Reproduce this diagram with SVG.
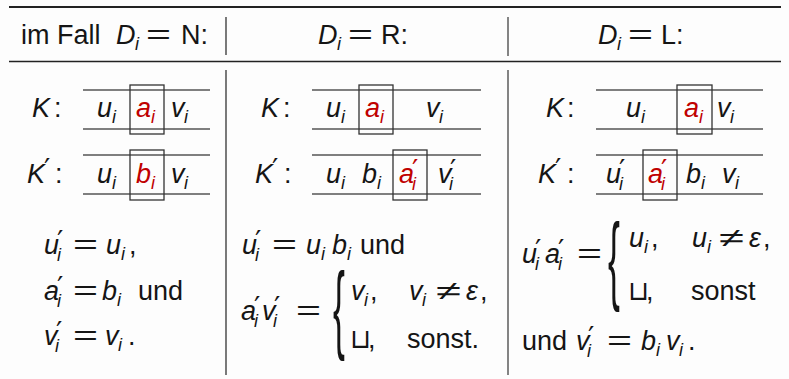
<svg xmlns="http://www.w3.org/2000/svg" width="789" height="379" viewBox="0 0 789 379">
<style>
text{font-family:"Liberation Sans",Arial,sans-serif;font-size:27px;fill:#151515}
.m{font-style:italic}
.s{font-size:18px;font-style:italic}
.p{font-family:"DejaVu Sans",sans-serif;font-size:28px}
.r{fill:#c00000}
.cup{font-family:"DejaVu Sans",sans-serif;font-size:27px}
.br{font-size:34px}
.rule{stroke:#222;fill:none}
.tape{stroke:#555;stroke-width:1.3;fill:none}
.box{stroke:#333;stroke-width:1.3;fill:none}
.sepd{stroke:#222;stroke-width:1.2}
.sepg{stroke:#777;stroke-width:1.8}
</style>
<rect width="789" height="379" fill="#fdfdfd"/>
<g id="rules">
<line class="rule" x1="9" y1="7" x2="781" y2="7" stroke-width="2.2"/>
<line class="rule" x1="9" y1="61.5" x2="781" y2="61.5" stroke-width="1.5" stroke="#444"/>
<line class="sepd" x1="226" y1="17" x2="226" y2="55"/>
<line class="sepg" x1="508" y1="17" x2="508" y2="56"/>
<line class="sepd" x1="226" y1="70" x2="226" y2="375"/>
<line class="sepg" x1="508" y1="70" x2="508" y2="375"/>
</g>
<g id="header">
<text x="21" y="44">im Fall</text>
<text x="116" y="44" class="m">D</text><text x="135" y="50" class="s">i</text>
<text x="146" y="44" textLength="25" lengthAdjust="spacingAndGlyphs">=</text>
<text x="181" y="44">N:</text>
<text x="318" y="44" class="m">D</text><text x="337" y="50" class="s">i</text>
<text x="348" y="44" textLength="25" lengthAdjust="spacingAndGlyphs">=</text>
<text x="381" y="44">R:</text>
<text x="598" y="44" class="m">D</text><text x="617" y="50" class="s">i</text>
<text x="628" y="44" textLength="25" lengthAdjust="spacingAndGlyphs">=</text>
<text x="661" y="44">L:</text>
</g>
<g id="col-N">
<g id="tapeN-K">
<text x="32" y="117" class="m">K</text><text x="54" y="117">:</text>
<line class="tape" x1="83" y1="90" x2="210" y2="90"/><line class="tape" x1="83" y1="129" x2="210" y2="129"/>
<rect class="box" x="130" y="85" width="34" height="49"/>
<text x="97" y="117" class="m">u</text><text x="112" y="123" class="s">i</text>
<text x="136" y="117" class="m r">a</text><text x="151" y="123" class="s r">i</text>
<text x="171" y="117" class="m">v</text><text x="184" y="123" class="s">i</text>
</g>
<g id="tapeN-K2">
<text x="27" y="183" class="m">K</text><text x="44" y="179" class="p">′</text><text x="55" y="183">:</text>
<line class="tape" x1="83" y1="155" x2="210" y2="155"/><line class="tape" x1="83" y1="194" x2="210" y2="194"/>
<rect class="box" x="130" y="150" width="34" height="50"/>
<text x="97" y="183" class="m">u</text><text x="112" y="189" class="s">i</text>
<text x="136" y="183" class="m r">b</text><text x="151" y="189" class="s r">i</text>
<text x="171" y="183" class="m">v</text><text x="184" y="189" class="s">i</text>
</g>
<g id="formulaN">
<text x="44" y="254" class="m">u</text><text x="57" y="251" class="p">′</text><text x="57" y="261" class="s">i</text>
<text x="73" y="254" textLength="25" lengthAdjust="spacingAndGlyphs">=</text>
<text x="106" y="254" class="m">u</text><text x="121" y="260" class="s">i</text><text x="129" y="254">,</text>
<text x="44" y="300" class="m">a</text><text x="57" y="297" class="p">′</text><text x="57" y="307" class="s">i</text>
<text x="73" y="300" textLength="25" lengthAdjust="spacingAndGlyphs">=</text>
<text x="102" y="300" class="m">b</text><text x="117" y="306" class="s">i</text>
<text x="138" y="300">und</text>
<text x="44" y="345" class="m">v</text><text x="56" y="342" class="p">′</text><text x="55" y="352" class="s">i</text>
<text x="73" y="345" textLength="25" lengthAdjust="spacingAndGlyphs">=</text>
<text x="105" y="345" class="m">v</text><text x="118" y="351" class="s">i</text><text x="128" y="345">.</text>
</g>
</g>
<g id="col-R">
<g id="tapeR-K">
<text x="261" y="117" class="m">K</text><text x="283" y="117">:</text>
<line class="tape" x1="312" y1="90" x2="481" y2="90"/><line class="tape" x1="312" y1="129" x2="481" y2="129"/>
<rect class="box" x="359" y="85" width="34" height="49"/>
<text x="326" y="117" class="m">u</text><text x="341" y="123" class="s">i</text>
<text x="365" y="117" class="m r">a</text><text x="380" y="123" class="s r">i</text>
<text x="426" y="117" class="m">v</text><text x="439" y="123" class="s">i</text>
</g>
<g id="tapeR-K2">
<text x="255" y="183" class="m">K</text><text x="272" y="179" class="p">′</text><text x="284" y="183">:</text>
<line class="tape" x1="312" y1="155" x2="481" y2="155"/><line class="tape" x1="312" y1="194" x2="481" y2="194"/>
<rect class="box" x="393" y="150" width="34" height="50"/>
<text x="326" y="183" class="m">u</text><text x="341" y="189" class="s">i</text>
<text x="362" y="183" class="m">b</text><text x="377" y="189" class="s">i</text>
<text x="399" y="183" class="m r">a</text><text x="412" y="180" class="p r">′</text><text x="412" y="190" class="s r">i</text>
<text x="438" y="183" class="m">v</text><text x="450" y="180" class="p">′</text><text x="449" y="190" class="s">i</text>
</g>
<g id="formulaR">
<text x="242" y="254" class="m">u</text><text x="255" y="251" class="p">′</text><text x="255" y="261" class="s">i</text>
<text x="272" y="254" textLength="25" lengthAdjust="spacingAndGlyphs">=</text>
<text x="306" y="254" class="m">u</text><text x="321" y="260" class="s">i</text>
<text x="332" y="254" class="m">b</text><text x="347" y="260" class="s">i</text>
<text x="360" y="254">und</text>
<text x="241" y="320" class="m">a</text><text x="254" y="317" class="p">′</text><text x="254" y="327" class="s">i</text>
<text x="262" y="320" class="m">v</text><text x="274" y="317" class="p">′</text><text x="273" y="327" class="s">i</text>
<text x="296" y="320" textLength="25" lengthAdjust="spacingAndGlyphs">=</text>
<text transform="translate(333,315) scale(1.05,2.9)" x="0" y="9" class="br">{</text>
<text x="351" y="300" class="m">v</text><text x="364" y="306" class="s">i</text><text x="370" y="300">,</text>
<text x="409" y="300" class="m">v</text><text x="422" y="306" class="s">i</text>
<text x="436" y="300" textLength="25" lengthAdjust="spacingAndGlyphs">≠</text>
<text x="466" y="300" class="m">ε</text><text x="480" y="300">,</text>
<text x="350" y="348" class="cup">⊔</text><text x="368" y="348">,</text>
<text x="407" y="348">sonst.</text>
</g>
</g>
<g id="col-L">
<g id="tapeL-K">
<text x="546" y="117" class="m">K</text><text x="567" y="117">:</text>
<line class="tape" x1="596" y1="90" x2="763" y2="90"/><line class="tape" x1="596" y1="129" x2="763" y2="129"/>
<rect class="box" x="677" y="85" width="35" height="49"/>
<text x="626" y="117" class="m">u</text><text x="641" y="123" class="s">i</text>
<text x="684" y="117" class="m r">a</text><text x="699" y="123" class="s r">i</text>
<text x="717" y="117" class="m">v</text><text x="730" y="123" class="s">i</text>
</g>
<g id="tapeL-K2">
<text x="538" y="183" class="m">K</text><text x="555" y="179" class="p">′</text><text x="567" y="183">:</text>
<line class="tape" x1="596" y1="155" x2="763" y2="155"/><line class="tape" x1="596" y1="194" x2="763" y2="194"/>
<rect class="box" x="643" y="150" width="34" height="50"/>
<text x="606" y="183" class="m">u</text><text x="619" y="180" class="p">′</text><text x="619" y="190" class="s">i</text>
<text x="648" y="183" class="m r">a</text><text x="661" y="180" class="p r">′</text><text x="661" y="190" class="s r">i</text>
<text x="686" y="183" class="m">b</text><text x="701" y="189" class="s">i</text>
<text x="722" y="183" class="m">v</text><text x="735" y="189" class="s">i</text>
</g>
<g id="formulaL">
<text x="522" y="263" class="m">u</text><text x="535" y="260" class="p">′</text><text x="535" y="270" class="s">i</text>
<text x="545" y="263" class="m">a</text><text x="558" y="260" class="p">′</text><text x="558" y="270" class="s">i</text>
<text x="577" y="263" textLength="25" lengthAdjust="spacingAndGlyphs">=</text>
<text transform="translate(608,266) scale(1.05,2.9)" x="0" y="9" class="br">{</text>
<text x="629" y="247" class="m">u</text><text x="644" y="253" class="s">i</text><text x="651" y="247">,</text>
<text x="692" y="247" class="m">u</text><text x="707" y="253" class="s">i</text>
<text x="719" y="247" textLength="25" lengthAdjust="spacingAndGlyphs">≠</text>
<text x="749" y="247" class="m">ε</text><text x="763" y="247">,</text>
<text x="628" y="300" class="cup">⊔</text><text x="646" y="300">,</text>
<text x="691" y="300">sonst</text>
<text x="522" y="350">und</text>
<text x="576" y="350" class="m">v</text><text x="588" y="347" class="p">′</text><text x="587" y="357" class="s">i</text>
<text x="607" y="350" textLength="25" lengthAdjust="spacingAndGlyphs">=</text>
<text x="641" y="350" class="m">b</text><text x="656" y="356" class="s">i</text>
<text x="666" y="350" class="m">v</text><text x="679" y="356" class="s">i</text><text x="688" y="350">.</text>
</g>
</g>
</svg>
